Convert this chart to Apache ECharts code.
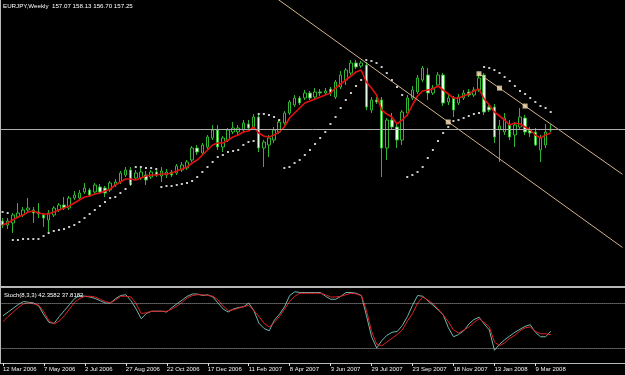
<!DOCTYPE html>
<html>
<head>
<meta charset="utf-8">
<title>EURJPY Weekly</title>
<script src="https://cdn.jsdelivr.net/npm/echarts@6/dist/echarts.min.js"></script>
<style>
  html, body { margin: 0; padding: 0; background: #000; }
  #chart { width: 625px; height: 375px; }
</style>
</head>
<body>
<div id="chart"></div>
<script>
// weekly bars from 12 Mar 2006, plus empty room on the right (chart shift)
const firstWeek = Date.UTC(2006, 2, 12)
const barCount = 108
const slotCount = 122

const opens = [
  140.72, 140.00, 140.36, 141.44, 141.80, 142.70, 142.70, 142.34, 141.80, 140.90,
  141.80, 142.70, 143.60, 143.06, 144.86, 144.86, 145.94, 146.30, 145.94, 146.84,
  146.66, 146.30, 147.20, 147.74, 149.00, 149.90, 148.46, 148.46, 149.00, 148.64,
  149.54, 148.82, 149.00, 149.54, 149.36, 149.90, 150.26, 151.70, 153.86, 152.96,
  154.04, 155.66, 157.10, 154.04, 155.30, 156.74, 156.74, 157.10, 158.18, 157.46,
  159.44, 153.86, 154.40, 155.30, 156.74, 158.36, 160.16, 161.60, 162.86, 162.86,
  163.76, 163.04, 163.94, 163.76, 164.48, 163.04, 164.84, 166.10, 167.36, 169.16,
  168.62, 168.80, 160.70, 162.50, 162.50, 153.86, 158.90, 157.64, 155.30, 160.16,
  162.86, 163.94, 166.10, 167.00, 163.76, 165.20, 167.00, 162.14, 162.86, 161.96,
  162.86, 163.94, 163.40, 164.30, 167.00, 161.24, 161.24, 157.10, 156.74, 158.00,
  156.20, 157.64, 159.26, 157.10, 156.74, 153.50, 154.40, 157.07
]
const highs = [
  141.26, 141.26, 142.16, 143.96, 143.24, 144.86, 143.24, 143.96, 142.16, 142.70,
  143.42, 143.96, 145.04, 145.22, 146.12, 146.30, 147.56, 146.66, 147.56, 147.38,
  147.02, 147.92, 148.28, 149.72, 150.44, 150.44, 149.90, 150.26, 149.72, 149.90,
  149.90, 150.44, 150.08, 149.90, 150.98, 151.34, 151.70, 154.22, 154.40, 154.76,
  156.20, 158.00, 158.00, 156.02, 157.46, 158.54, 158.00, 158.90, 158.90, 159.98,
  159.80, 155.30, 156.20, 157.64, 158.90, 160.52, 162.50, 163.40, 163.22, 164.30,
  164.12, 164.66, 164.48, 164.66, 164.84, 166.10, 167.72, 168.26, 169.70, 169.70,
  169.52, 169.34, 163.04, 163.04, 163.04, 159.26, 160.16, 158.18, 160.70, 163.40,
  165.02, 167.00, 168.62, 168.26, 165.20, 167.54, 167.36, 163.76, 163.22, 163.58,
  164.30, 164.48, 164.84, 167.36, 167.36, 161.96, 161.78, 158.90, 160.16, 158.90,
  158.54, 161.06, 159.80, 157.64, 157.46, 156.20, 158.18, 158.13
]
const lows = [
  139.46, 139.28, 138.56, 141.26, 141.44, 142.34, 140.36, 141.26, 139.64, 138.74,
  141.44, 142.34, 142.70, 142.70, 144.50, 144.50, 145.58, 145.04, 145.58, 145.58,
  145.04, 145.94, 146.84, 147.38, 148.64, 147.02, 148.10, 148.10, 147.20, 148.28,
  148.64, 147.74, 148.46, 148.64, 149.00, 149.54, 149.90, 151.34, 152.60, 152.60,
  153.68, 155.30, 153.50, 153.14, 154.94, 156.38, 156.20, 156.74, 157.10, 157.10,
  153.14, 150.44, 152.24, 154.76, 156.38, 158.00, 159.80, 161.24, 161.60, 162.50,
  162.50, 162.68, 163.22, 163.40, 163.22, 162.68, 164.48, 165.20, 167.00, 168.08,
  168.26, 160.70, 160.16, 161.78, 148.64, 151.70, 157.10, 153.86, 154.40, 159.62,
  162.50, 163.58, 165.74, 162.50, 163.40, 164.84, 161.42, 161.60, 159.44, 161.60,
  162.50, 163.04, 163.04, 163.94, 159.80, 160.34, 154.76, 151.34, 156.20, 155.30,
  154.04, 157.10, 156.20, 155.84, 154.22, 151.34, 153.86, 156.70
]
const closes = [
  140.00, 140.72, 141.80, 142.16, 142.70, 143.06, 142.16, 141.98, 141.26, 142.16,
  143.06, 143.60, 143.06, 144.86, 145.40, 145.76, 146.66, 145.40, 147.20, 145.94,
  145.76, 147.56, 147.74, 149.36, 149.90, 147.56, 149.36, 149.54, 148.10, 149.54,
  149.00, 149.72, 149.54, 149.00, 150.62, 150.80, 151.34, 153.86, 153.14, 154.40,
  155.84, 157.10, 154.04, 155.66, 157.10, 157.46, 157.46, 158.36, 157.46, 159.44,
  153.86, 154.94, 155.66, 157.10, 158.54, 160.16, 162.14, 162.86, 161.96, 163.76,
  162.86, 163.94, 163.76, 164.12, 163.76, 165.74, 167.00, 167.90, 169.16, 168.44,
  169.16, 161.24, 162.50, 162.14, 153.86, 158.90, 157.64, 155.30, 160.34, 162.86,
  164.30, 166.46, 168.26, 163.76, 164.66, 167.00, 161.96, 162.86, 160.70, 163.04,
  163.76, 163.40, 164.30, 166.46, 160.34, 160.70, 155.84, 157.82, 159.26, 155.84,
  158.00, 159.44, 156.74, 156.56, 154.40, 155.66, 156.74, 157.25
]

// red moving average
const maLine = [
  140.00, 140.36, 140.90, 141.44, 141.80, 142.34, 142.52, 142.16, 141.98, 141.98,
  142.34, 142.70, 143.06, 143.42, 143.96, 144.50, 145.04, 145.22, 145.58, 145.76,
  146.12, 146.48, 147.20, 147.74, 148.28, 148.28, 148.10, 148.46, 148.82, 149.00,
  149.00, 149.18, 149.18, 149.36, 149.72, 150.08, 150.44, 151.16, 151.70, 152.60,
  153.50, 154.40, 154.76, 154.76, 155.30, 155.84, 156.20, 156.74, 156.92, 157.64,
  156.56, 156.02, 155.84, 156.20, 156.74, 157.64, 159.26, 160.16, 161.06, 161.96,
  162.32, 162.68, 163.04, 163.40, 163.76, 164.66, 165.38, 166.10, 166.82, 167.54,
  167.90, 165.74, 164.66, 163.40, 160.70, 159.98, 159.44, 158.18, 158.90, 159.80,
  161.60, 163.22, 164.12, 164.30, 164.48, 165.02, 164.30, 163.58, 162.86, 162.86,
  163.22, 163.58, 164.12, 164.48, 162.68, 161.60, 160.34, 159.62, 158.90, 158.00,
  158.36, 158.18, 157.64, 157.10, 156.20, 155.66, 156.20, 156.56
]

// parabolic SAR dots
const sarDots = [
  142.34, 142.16, 137.30, 137.30, 137.48, 137.48, 137.48, 137.48, 138.02, 138.56,
  138.92, 139.10, 139.28, 139.64, 140.00, 140.54, 141.26, 141.98, 142.70, 143.42,
  144.14, 144.86, 145.04, 145.76, 146.48, 147.38, 150.44, 150.44, 150.26, 150.26,
  150.08, 146.84, 147.02, 147.02, 147.20, 147.38, 147.56, 147.92, 148.64, 149.54,
  150.44, 151.34, 152.24, 152.60, 153.14, 153.32, 153.50, 154.40, 154.94, 155.12,
  159.98, 159.98, 159.80, 159.44, 158.90, 150.26, 150.44, 151.16, 151.70, 152.60,
  153.50, 154.58, 155.66, 156.74, 158.18, 159.44, 161.06, 162.50, 163.76, 165.02,
  166.10, 169.70, 169.52, 169.16, 168.44, 167.36, 166.10, 164.84, 163.40, 148.64,
  149.00, 149.54, 150.44, 152.06, 153.50, 155.12, 156.56, 157.64, 158.72, 158.90,
  159.26, 159.62, 159.98, 160.16, 168.44, 168.26, 167.90, 167.36, 166.64, 165.92,
  165.02, 164.12, 163.58, 162.86, 162.14, 161.42, 161.06, 160.34
]

// Stoch(8,3,3): main and signal
const stochMain = [
  63, 68, 73, 78, 82, 81, 80, 76, 64, 54,
  53, 62, 70, 78, 86, 90, 89, 88, 86, 83,
  80, 80, 86, 90, 91, 83, 72, 59, 66, 69,
  69, 69, 68, 74, 79, 84, 89, 92, 92, 90,
  91, 88, 80, 72, 68, 72, 74, 75, 80, 70,
  53, 46, 43, 57, 65, 75, 90, 95, 94, 94,
  94, 94, 94, 89, 85, 85, 89, 94, 94, 93,
  90, 63, 35, 20, 30, 37, 41, 42, 50, 62,
  77, 90, 89, 83, 77, 71, 64, 47, 35, 38,
  43, 52, 58, 61, 52, 44, 17, 25, 31, 36,
  41, 45, 49, 51, 41, 35, 35, 42.3582
]
const stochSignal = [
  55, 62, 68, 74, 79, 80, 79, 77, 68, 56,
  52, 56, 63, 72, 81, 86, 89, 89, 88, 85,
  82, 80, 84, 89, 89, 88, 79, 66, 67, 69,
  69, 69, 69, 72, 76, 81, 87, 90, 91, 91,
  90, 89, 84, 76, 70, 71, 73, 75, 77, 70,
  62, 53, 48, 54, 62, 72, 82, 89, 93, 93,
  93, 93, 93, 91, 88, 88, 89, 91, 93, 92,
  90, 70, 42, 25, 23, 28, 33, 38, 44, 56,
  66, 80, 88, 84, 79, 72, 64, 55, 44, 40,
  44, 48, 54, 59, 54, 48, 28, 23, 27, 33,
  37, 43, 47, 48, 42, 39, 39, 37.8182
]
const stochLevels = [20, 80]

// drawn objects: channel lines [bar, price] and their anchor squares
const channelLow = [[52, 181.79], [121, 135.96]]
const channelHigh = [[93, 167.22], [121, 149.13]]
const anchorPoints = [[87, 158.54], [93, 167.22], [97, 164.64], [102, 161.41]]
const bidPrice = 157.25

const titleText = 'EURJPY,Weekly  157.07 158.13 156.70 157.25'
const stochText = 'Stoch(8,3,3) 42.3582 37.8182'

const months = ['Jan', 'Feb', 'Mar', 'Apr', 'May', 'Jun', 'Jul', 'Aug', 'Sep', 'Oct', 'Nov', 'Dec']
const weeks = []
for (let i = 0; i < slotCount; i++) {
  const d = new Date(firstWeek + i * 7 * 86400000)
  weeks.push(d.getUTCDate() + ' ' + months[d.getUTCMonth()] + ' ' + d.getUTCFullYear())
}

const candles = opens.map((o, i) => [o, closes[i], lows[i], highs[i]])

const showDate = (i) => i % 8 === 0 && i < barCount
const fontFam = 'Liberation Sans'
const frame = '#b8b8b8'
const green = '#2fb52f'

const chart = echarts.init(document.getElementById('chart'))
chart.setOption({
  animation: false,
  backgroundColor: '#000',
  textStyle: { fontFamily: fontFam },
  title: [
    { text: titleText, left: 3, top: 3, padding: 0, textStyle: { color: '#fff', fontSize: 6.2, fontWeight: 'normal', fontFamily: fontFam } },
    { text: stochText, left: 4, top: 292, padding: 0, textStyle: { color: '#fff', fontSize: 6, fontWeight: 'normal', fontFamily: fontFam } },
  ],
  grid: [
    { left: 0, right: 0, top: 0, height: 287 },
    { left: 0, right: 0, top: 288, height: 75 },
  ],
  xAxis: [
    {
      type: 'category',
      gridIndex: 0,
      data: weeks,
      boundaryGap: true,
      axisLine: { show: true, lineStyle: { color: frame, width: 2 } },
      axisTick: { show: false },
      axisLabel: { show: false },
      splitLine: { show: false },
    },
    {
      type: 'category',
      gridIndex: 1,
      data: weeks,
      boundaryGap: true,
      axisLine: { show: true, lineStyle: { color: frame, width: 1 } },
      axisTick: { show: true, alignWithLabel: true, length: 3, interval: showDate, lineStyle: { color: '#ddd' } },
      axisLabel: {
        show: true,
        interval: showDate,
        align: 'left',
        margin: 3,
        color: '#f0f0f0',
        fontSize: 6,
        fontFamily: fontFam,
      },
      splitLine: { show: false },
    },
  ],
  yAxis: [
    {
      type: 'value',
      gridIndex: 0,
      min: 128.84,
      max: 180.5,
      axisLine: { show: true, lineStyle: { color: frame } },
      axisTick: { show: false },
      axisLabel: { show: false },
      splitLine: { show: false },
    },
    {
      type: 'value',
      gridIndex: 1,
      min: 0,
      max: 100,
      axisLine: { show: true, lineStyle: { color: frame } },
      axisTick: { show: false },
      axisLabel: { show: false },
      splitLine: { show: false },
    },
  ],
  series: [
    {
      type: 'candlestick',
      xAxisIndex: 0,
      yAxisIndex: 0,
      data: candles,
      barWidth: 3,
      itemStyle: {
        color: '#000',
        color0: '#e6ffe6',
        borderColor: green,
        borderColor0: green,
        borderWidth: 1,
      },
      markLine: {
        silent: true,
        symbol: 'none',
        label: { show: false },
        lineStyle: { color: '#b0b0b0', type: 'solid', width: 1 },
        data: [{ yAxis: bidPrice }],
      },
    },
    {
      type: 'line',
      xAxisIndex: 0,
      yAxisIndex: 0,
      data: maLine,
      symbol: 'none',
      lineStyle: { color: '#e01010', width: 1.6 },
    },
    {
      type: 'scatter',
      xAxisIndex: 0,
      yAxisIndex: 0,
      data: sarDots,
      symbol: 'rect',
      symbolSize: 2,
      itemStyle: { color: '#fff' },
    },
    {
      type: 'line',
      xAxisIndex: 0,
      yAxisIndex: 0,
      data: channelLow,
      symbol: 'none',
      lineStyle: { color: '#d2b48c', width: 1 },
    },
    {
      type: 'line',
      xAxisIndex: 0,
      yAxisIndex: 0,
      data: channelHigh,
      symbol: 'none',
      lineStyle: { color: '#d2b48c', width: 1 },
    },
    {
      type: 'scatter',
      xAxisIndex: 0,
      yAxisIndex: 0,
      data: anchorPoints,
      symbol: 'rect',
      symbolSize: 5,
      itemStyle: { color: '#ffe4b5' },
      z: 5,
    },
    {
      type: 'line',
      xAxisIndex: 1,
      yAxisIndex: 1,
      data: stochMain,
      symbol: 'none',
      lineStyle: { color: '#6fb8b0', width: 1 },
      markLine: {
        silent: true,
        symbol: 'none',
        label: { show: false },
        lineStyle: { color: '#b0b0b0', type: 'dotted', width: 1 },
        data: stochLevels.map((v) => ({ yAxis: v })),
      },
    },
    {
      type: 'line',
      xAxisIndex: 1,
      yAxisIndex: 1,
      data: stochSignal,
      symbol: 'none',
      lineStyle: { color: '#e02020', width: 1 },
    },
  ],
})
</script>
</body>
</html>
